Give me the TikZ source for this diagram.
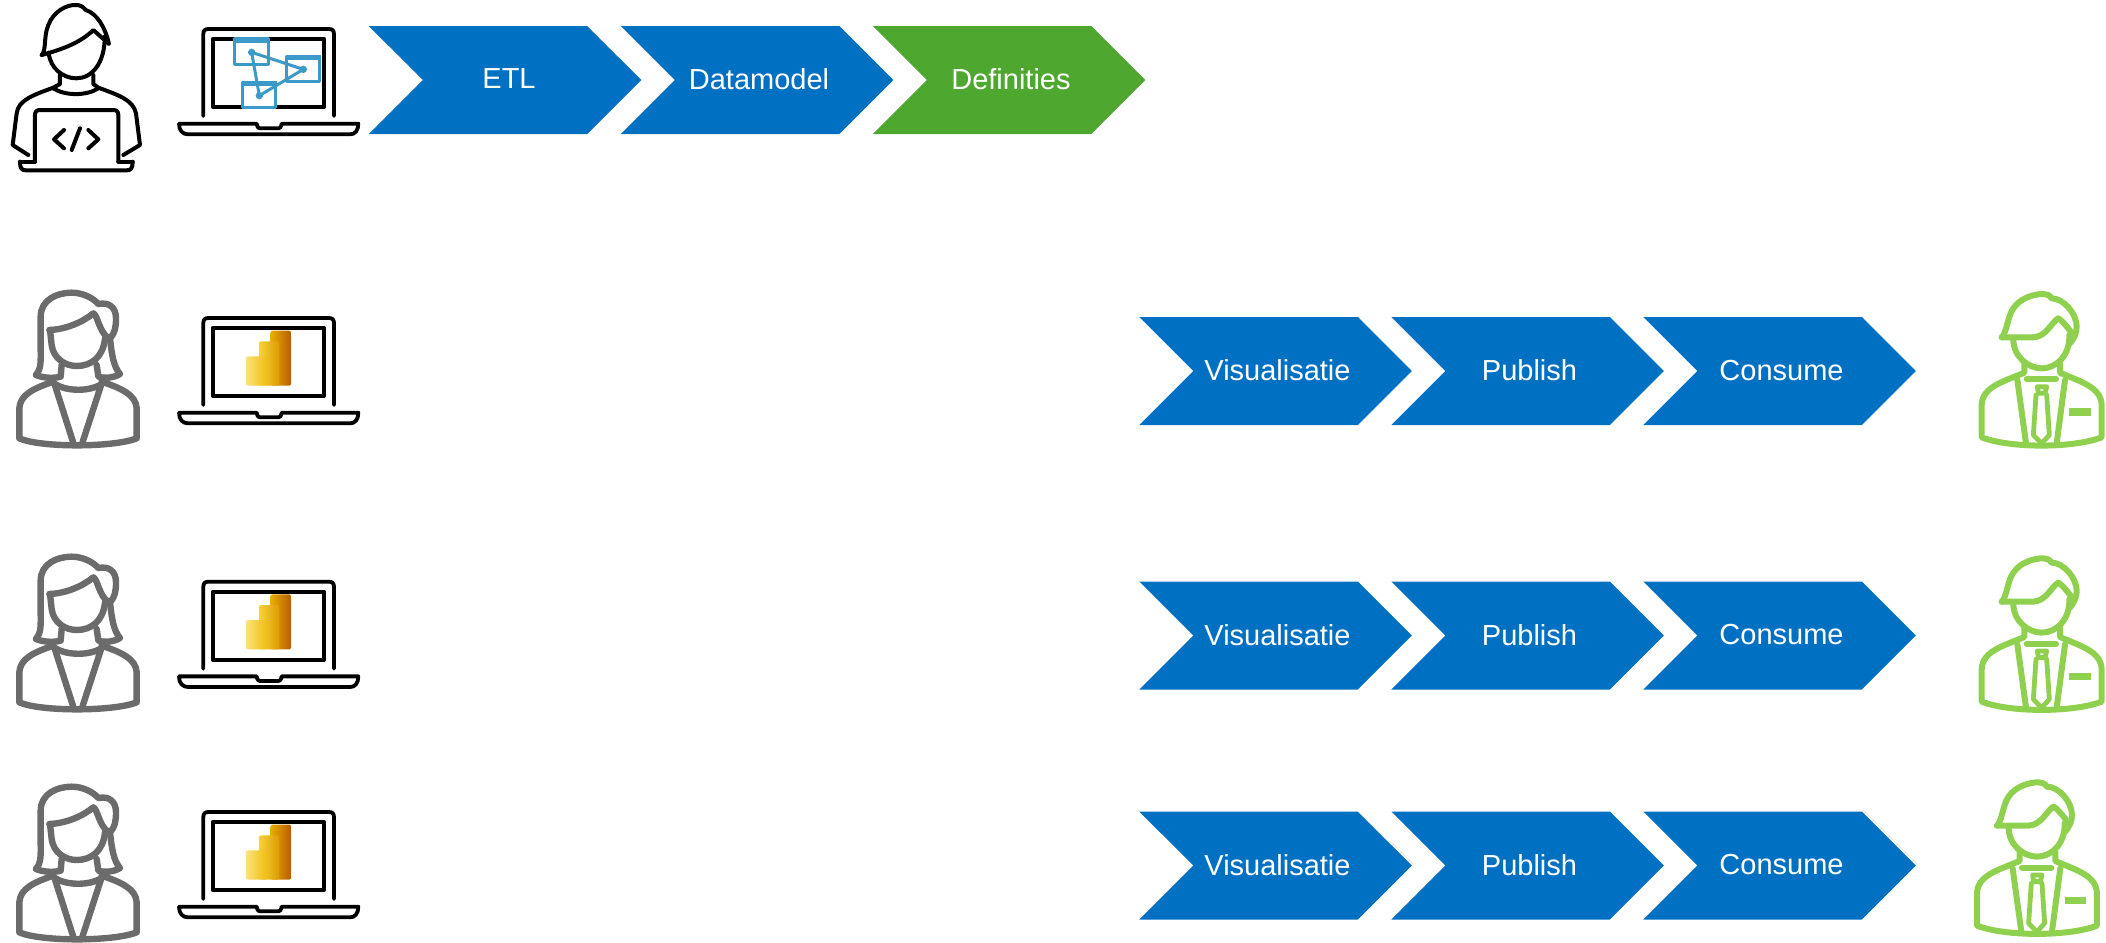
\documentclass[tikz,border=0pt]{standalone}
\usepackage{fontspec}
\setmainfont{Liberation Sans}
\usetikzlibrary{shapes.symbols}
\definecolor{chevblue}{HTML}{0070C3}
\definecolor{chevgreen}{HTML}{4EA72E}
\definecolor{womangrey}{HTML}{6B6B6B}
\definecolor{mangreen}{HTML}{8FD14F}
\definecolor{modelblue}{HTML}{3C9AC9}
\definecolor{barhigha}{HTML}{E8AE00}
\definecolor{barhighb}{HTML}{B85C00}
\definecolor{barmida}{HTML}{F5D33A}
\definecolor{barmidb}{HTML}{DD9B00}
\definecolor{barlowa}{HTML}{FBE27A}
\definecolor{barlowb}{HTML}{F0BE10}
\tikzset{
    chevron/.style={signal, signal to=east, signal from=west, signal pointer angle=90,
        minimum width=136.25pt, minimum height=54pt, inner sep=0pt, outer sep=0pt, text depth=1pt,
        fill=chevblue, text=white, font=\fontsize{14.5}{17}\selectfont,
        execute at begin node=\hspace*{2pt}},
    icon/.style={scale=1/3, line join=round, line cap=round},
    pics/developer/.style={code={
        \draw [line width=2pt, fill=white] (125,165) .. controls (140,150) and (130,110) .. (145,75) .. controls (160,35) and (200,13) .. (229,15) .. controls (240,15) and (250,20) .. (257,30) .. controls (290,40) and (315,80) .. (327,132) -- (280,90) .. controls (240,130) and (180,150) .. (125,165);
        \draw [line width=2pt] (146,158) .. controls (150,205) and (190,235) .. (229,235) .. controls (275,235) and (315,190) .. (314,110);
        \draw [line width=2pt] (180,225) -- (180,252) -- (160,263) .. controls (100,285) and (55,300) .. (50,340) -- (38,435) -- (85,465);
        \draw [line width=2pt] (280,225) -- (280,252) -- (295,263) .. controls (355,285) and (400,300) .. (408,340) -- (420,435) -- (370,465);
        \draw [line width=2pt] (160,265) .. controls (195,288) and (260,288) .. (295,265);
        \draw [line width=2pt] (105,485) -- (105,345) .. controls (105,335) and (110,330) .. (120,330) -- (340,330) .. controls (350,330) and (355,335) .. (355,345) -- (355,485);
        \draw [line width=2pt] (60,485) -- (105,485);
        \draw [line width=2pt] (355,485) -- (398,485);
        \draw [line width=2pt] (60,485) .. controls (60,505) and (65,511) .. (78,511) -- (380,511) .. controls (393,511) and (398,505) .. (398,485);
        \draw [line width=2pt] (192,390) -- (162,418) -- (192,445);
        \draw [line width=2pt] (240,385) -- (215,450);
        \draw [line width=2pt] (265,390) -- (295,418) -- (265,445);
    }},
    pics/laptop/.style={code={
        \draw [line width=1.9pt] (610,348) -- (610,102) .. controls (610,92) and (615,87) .. (625,87) -- (987,87) .. controls (997,87) and (1002,92) .. (1002,102) -- (1002,348);
        \draw [line width=1.9pt] (638,117) rectangle (973,321);
        \draw [line width=1.9pt] (537,371) -- (770,371) .. controls (772,383) and (775,385) .. (785,385) -- (830,385) .. controls (840,385) and (843,383) .. (845,371) -- (1075,371) .. controls (1075,392) and (1065,403) .. (1050,403) -- (565,403) .. controls (548,403) and (537,392) .. (537,371);
    }},
    pics/powerbi/.style={code={
        \shade [left color=barhigha, right color=barhighb, rounded corners=1pt] (812,125) rectangle (873,290);
        \shade [left color=barmida, right color=barmidb, rounded corners=1pt] (777,157) rectangle (838,290);
        \shade [left color=barlowa, right color=barlowb, rounded corners=1pt] (738,202) rectangle (800,290);
    }},
    pics/datamodel/.style={code={
        \draw [modelblue, line width=1.5pt, fill=white] (703,116) rectangle (805,193);
        \fill [modelblue] (700,113) rectangle (808,128);
        \draw [modelblue, line width=1.5pt, fill=white] (860,168) rectangle (959,243);
        \fill [modelblue] (857,165) rectangle (962,180);
        \draw [modelblue, line width=1.5pt, fill=white] (728,246) rectangle (828,323);
        \fill [modelblue] (725,243) rectangle (830,258);
        \draw [modelblue, line width=1.5pt] (755,157) -- (910,208) -- (778,287) -- cycle;
        \fill [modelblue] (755,157) circle (11);
        \fill [modelblue] (910,208) circle (11);
        \fill [modelblue] (778,287) circle (11);
    }},
    pics/woman/.style={code={
        \draw [womangrey, line width=3.2pt] (108,285) .. controls (125,265) and (122,240) .. (122,200) -- (122,110) .. controls (122,60) and (170,38) .. (215,38) .. controls (250,38) and (280,55) .. (295,72) .. controls (330,65) and (348,85) .. (348,115) .. controls (348,140) and (345,160) .. (330,175) .. controls (335,220) and (340,260) .. (360,282) .. controls (340,295) and (310,295) .. (295,290) -- (290,255);
        \draw [womangrey, line width=3.2pt] (108,285) .. controls (130,295) and (165,295) .. (182,290) -- (185,255);
        \draw [womangrey, line width=3.2pt] (148,150) .. controls (200,148) and (250,125) .. (280,100) .. controls (295,110) and (295,150) .. (325,175);
        \draw [womangrey, line width=3.2pt] (150,150) -- (155,195) .. controls (160,235) and (195,258) .. (230,258) .. controls (275,258) and (310,230) .. (315,175);
        \draw [womangrey, line width=3.2pt] (160,305) .. controls (100,325) and (60,345) .. (58,385) -- (58,475) .. controls (120,503) and (340,503) .. (410,475) -- (410,385) .. controls (408,345) and (365,325) .. (305,305);
        \draw [womangrey, line width=3.2pt] (165,312) .. controls (200,335) and (270,335) .. (305,312);
        \draw [womangrey, line width=3.2pt] (163,310) -- (222,495);
        \draw [womangrey, line width=3.2pt] (305,310) -- (245,495);
    }},
    pics/man/.style={code={
        \draw [mangreen, line width=3pt] (215,172) .. controls (230,160) and (232,110) .. (250,85) .. controls (270,55) and (310,42) .. (340,42) .. controls (350,42) and (358,45) .. (365,55) .. controls (400,55) and (440,100) .. (440,140) .. controls (440,160) and (432,175) .. (420,190);
        \draw [mangreen, line width=3pt] (215,172) -- (310,172) .. controls (350,170) and (365,125) .. (385,115) .. controls (400,125) and (420,150) .. (428,165);
        \draw [mangreen, line width=3pt] (250,178) .. controls (250,230) and (295,265) .. (335,265) .. controls (380,265) and (420,225) .. (418,165);
        \draw [mangreen, line width=3pt] (283,250) -- (283,278) .. controls (220,305) and (157,320) .. (155,375) -- (155,472) .. controls (240,505) and (430,505) .. (515,472) -- (515,375) .. controls (513,320) and (450,305) .. (390,278) -- (390,250);
        \draw [mangreen, line width=3pt] (262,300) -- (288,490);
        \draw [mangreen, line width=3pt] (405,300) -- (380,490);
        \draw [mangreen, line width=3pt] (290,298) -- (378,298);
        \draw [mangreen, line width=2.4pt] (322,320) -- (350,320) -- (345,340) -- (325,340) -- cycle;
        \draw [mangreen, line width=2.4pt] (318,345) -- (310,465) -- (335,490) -- (358,465) -- (350,345);
        \fill [mangreen] (418,385) rectangle (482,408);
    }},
}
\begin{document}
\begin{tikzpicture}[x=0.5pt, y=-0.5pt]
    \useasboundingbox (0,0) rectangle (2106,943);
    \node (etl) at (505,80) [chevron] {\hspace*{2pt}ETL};
    \node (datamodel) at (757,80) [chevron] {Datamodel};
    \node (definities) at (1009,80) [chevron, fill=chevgreen] {Definities};
    \foreach \r/\y in {a/371, b/635.5, c/865.5} {
        \node (vis\r) at (1275.5,\y) [chevron] {Visualisatie};
        \node (pub\r) at (1527.5,\y) [chevron] {Publish};
        \node (con\r) at (1779.5,\y) [chevron] {Consume};
    }
    \pic [icon] at (0,0) {developer};
    \pic [icon] at (0,0) {laptop};
    \pic [icon] at (0,0) {datamodel};
    \foreach \y/\w in {289/280, 552.7/544, 783/774} {
        \pic [icon] at (0,\y) {laptop};
        \pic [icon] at (0,\y) {powerbi};
        \pic [icon] at (0,\w) {woman};
    }
    \pic [icon] at (1930,280) {man};
    \pic [icon] at (1930,544.3) {man};
    \pic [icon] at (1925.3,768.3) {man};
\end{tikzpicture}
\end{document}
